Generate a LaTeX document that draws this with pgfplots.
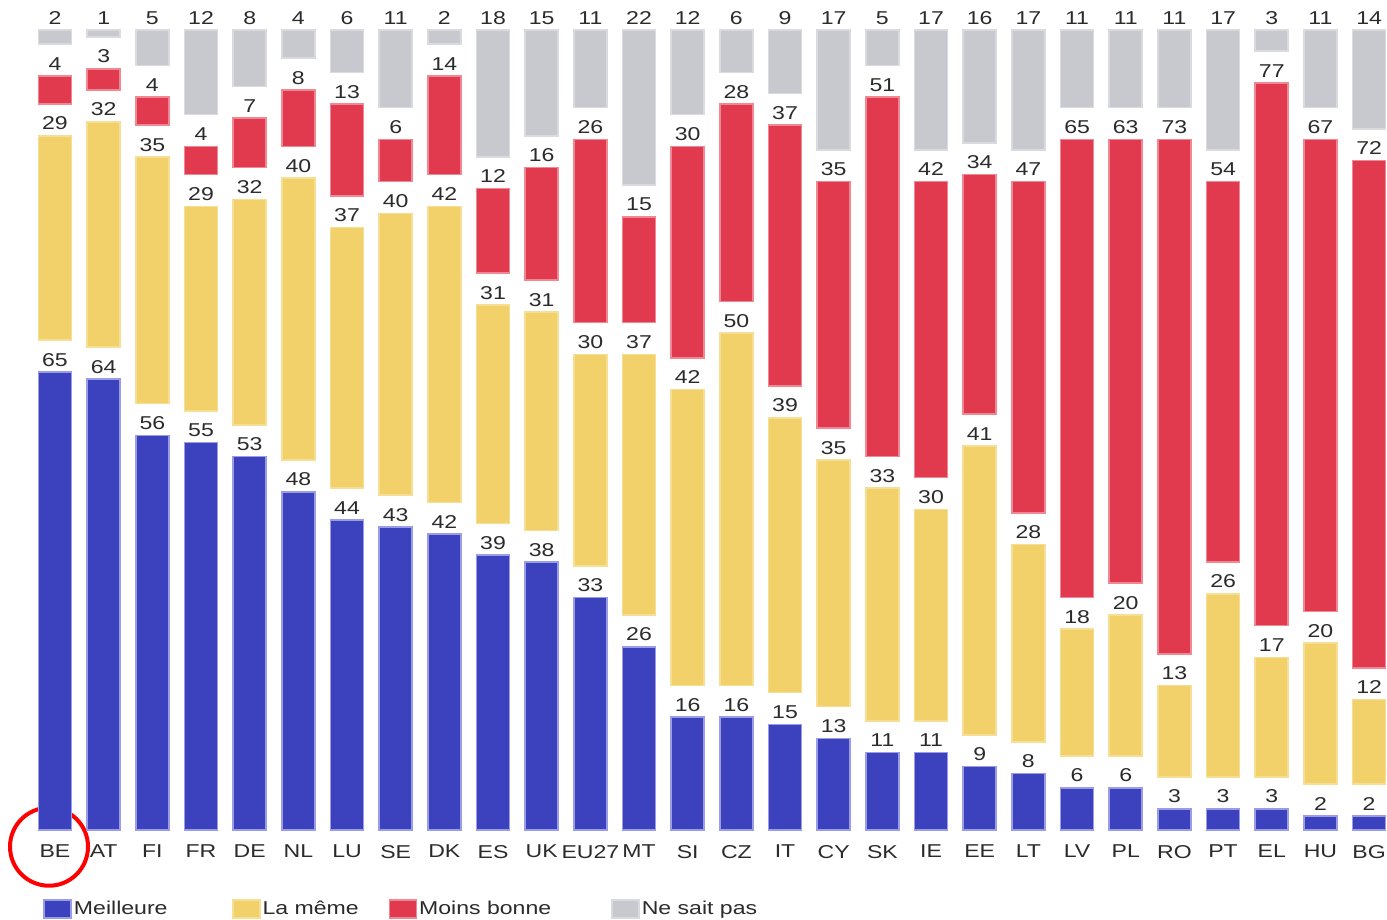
\documentclass[border=0pt]{standalone}
\usepackage{pgfplots}
\usepackage{pgfplotstable}
\pgfplotsset{compat=1.18}
\usepackage{fontspec}
\setmainfont{Liberation Sans}[FakeStretch=1.24]

\definecolor{cblue}{HTML}{3C41BE}
\definecolor{eblue}{HTML}{9A9DE6}
\definecolor{cyel}{HTML}{F2D16B}
\definecolor{eyel}{HTML}{F6DE94}
\definecolor{cred}{HTML}{E13A4F}
\definecolor{ered}{HTML}{F08894}
\definecolor{cgrey}{HTML}{C8C9CE}
\definecolor{egrey}{HTML}{DADBDE}
\definecolor{txt}{HTML}{2B2B2B}

% square legend box; value label sits above each segment (nodes start at the segment centre)
\pgfplotsset{
  boxlegend/.style={legend image code/.code={\draw[##1] (0pt,-4.5pt) rectangle (13.5pt,4.5pt);}},
  seglab/.style={nodes near coords, point meta=explicit,
    visualization depends on={\thisrow{#1} \as \hh},
    every node near coord/.append style={anchor=south, yshift=1.7615pt*\hh}},
}

% b = Meilleure, s = La meme, w = Moins bonne, n = Ne sait pas, g = white gap between segments
\pgfplotstableread{
x lab  b  s  w  n  g
0  BE   65 29 4  2  4.51
1  AT   64 32 3  1  4.51
2  FI   56 35 4  5  4.51
3  FR   55 29 4  12 4.51
4  DE   53 32 7  8  4.51
5  NL   48 40 8  4  4.51
6  LU   44 37 13 6  4.51
7  SE   43 40 6  11 4.51
8  DK   42 42 14 2  4.51
9  ES   39 31 12 18 4.51
10 UK   38 31 16 15 4.51
11 EU27 33 30 26 11 4.51
12 MT   26 37 15 22 4.51
13 SI   16 42 30 12 4.51
14 CZ   16 50 28 6  4.51
15 IT   15 39 37 9  4.51
16 CY   13 35 35 17 4.51
17 SK   11 33 51 5  4.51
18 IE   11 30 42 17 4.51
19 EE   9  41 34 16 4.51
20 LT   8  28 47 17 4.51
21 LV   6  18 65 11 4.51
22 PL   6  20 63 11 4.51
23 RO   3  13 73 11 4.51
24 PT   3  26 54 17 4.51
25 EL   3  17 77 3  4.51
26 HU   2  20 67 11 4.51
27 BG   2  12 72 14 4.51
}\data

\newcommand{\lfont}{\fontsize{9.3}{11}\selectfont}

\begin{document}
\begin{tikzpicture}
\begin{axis}[
    scale only axis,
    width=693.5pt, height=400pt,
    xmin=-1.130, xmax=27.368,
    ymin=0, ymax=113.54,
    clip=false,
    ybar stacked,
    bar width=16.5pt,
    /pgf/number format/assume math mode=true,
    axis line style={draw=none},
    major tick length=0pt,
    ytick=\empty,
    xtick=data,
    xticklabels from table={\data}{lab},
    xticklabel style={font=\lfont, text=txt, yshift=-4pt},
    every node near coord/.append style={font=\lfont, text=txt, inner sep=2.5pt},
    legend columns=4,
    legend style={draw=none, fill=none, inner sep=0pt,
        at={(axis cs:-0.2466,-11.21)}, anchor=west,
        nodes={inner sep=1pt, anchor=west, font=\lfont, text=txt},
        /tikz/every even column/.append style={column sep=0pt}},
]
\addplot[fill=cblue, draw=eblue, line width=0.8pt, seglab=b, boxlegend]
    table[x=x, y=b, meta=b] {\data};
\addlegendentry{\makebox[78pt][l]{Meilleure}}
\addplot[forget plot, draw=none, fill=none] table[x=x, y=g] {\data};
\addplot[fill=cyel, draw=eyel, line width=0.8pt, seglab=s, boxlegend]
    table[x=x, y=s, meta=s] {\data};
\addlegendentry{\makebox[62pt][l]{La même}}
\addplot[forget plot, draw=none, fill=none] table[x=x, y=g] {\data};
\addplot[fill=cred, draw=ered, line width=0.8pt, seglab=w, boxlegend]
    table[x=x, y=w, meta=w] {\data};
\addlegendentry{\makebox[95pt][l]{Moins bonne}}
\addplot[forget plot, draw=none, fill=none] table[x=x, y=g] {\data};
\addplot[fill=cgrey, draw=egrey, line width=0.8pt, seglab=n, boxlegend]
    table[x=x, y=n, meta=n] {\data};
\addlegendentry{Ne sait pas}

\draw[red, line width=2pt] (axis cs:-0.123,-2.37) circle[radius=19.5pt];
\coordinate (bbll) at (axis cs:-1.130,-12.77);
\coordinate (bbur) at (axis cs:27.368,117.80);
\end{axis}
\pgfresetboundingbox
\path[use as bounding box] (bbll) rectangle (bbur);
\end{tikzpicture}
\end{document}
